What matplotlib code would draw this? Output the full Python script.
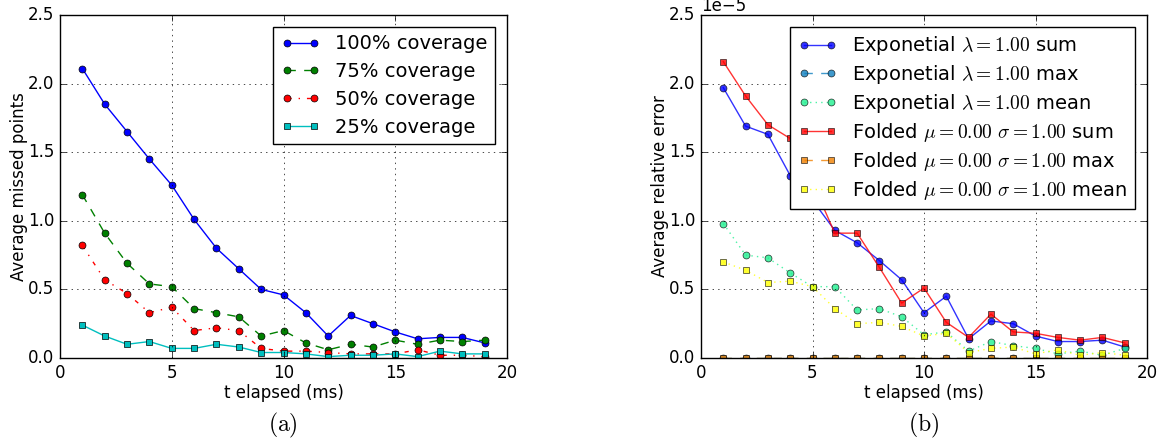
import matplotlib
matplotlib.use("Agg")
import matplotlib.pyplot as plt

plt.style.use('classic')
plt.rcParams['mathtext.fontset'] = 'cm'
plt.rcParams['font.family'] = ['DejaVu Sans']

t = list(range(1, 20))

cov100 = [2.11, 1.85, 1.65, 1.45, 1.26, 1.01, 0.80, 0.65, 0.50, 0.46, 0.33, 0.16, 0.31, 0.25, 0.19, 0.14, 0.15, 0.15, 0.11]
cov75 = [1.19, 0.91, 0.69, 0.54, 0.52, 0.36, 0.33, 0.30, 0.16, 0.20, 0.11, 0.06, 0.10, 0.08, 0.13, 0.10, 0.13, 0.12, 0.13]
cov50 = [0.82, 0.57, 0.47, 0.33, 0.37, 0.20, 0.22, 0.20, 0.07, 0.05, 0.05, 0.04, 0.03, 0.03, 0.03, 0.06, 0.02, 0.02, 0.01]
cov25 = [0.24, 0.16, 0.10, 0.12, 0.07, 0.07, 0.10, 0.08, 0.04, 0.04, 0.03, 0.01, 0.02, 0.02, 0.03, 0.01, 0.05, 0.03, 0.03]

exp_sum = [1.97, 1.69, 1.63, 1.33, 1.15, 0.93, 0.84, 0.71, 0.57, 0.33, 0.45, 0.14, 0.27, 0.25, 0.16, 0.12, 0.12, 0.13, 0.08]
exp_max = [0.0] * 19
exp_mean = [0.98, 0.75, 0.73, 0.62, 0.52, 0.52, 0.35, 0.36, 0.30, 0.17, 0.19, 0.05, 0.12, 0.09, 0.07, 0.03, 0.05, 0.02, 0.07]
fold_sum = [2.16, 1.91, 1.70, 1.60, 1.28, 0.91, 0.91, 0.66, 0.40, 0.51, 0.26, 0.15, 0.32, 0.19, 0.18, 0.15, 0.13, 0.15, 0.11]
fold_max = [0.0] * 19
fold_mean = [0.70, 0.64, 0.55, 0.56, 0.52, 0.36, 0.25, 0.26, 0.23, 0.16, 0.18, 0.04, 0.07, 0.08, 0.03, 0.06, 0.02, 0.04, 0.02]
scale = 1e-5

left_labels = ['100% coverage', '75% coverage', '50% coverage', '25% coverage']
right_labels = [r'Exponetial $\lambda = 1.00$ sum', r'Exponetial $\lambda = 1.00$ max',
                r'Exponetial $\lambda = 1.00$ mean', r'Folded $\mu = 0.00$ $\sigma = 1.00$ sum',
                r'Folded $\mu = 0.00$ $\sigma = 1.00$ max', r'Folded $\mu = 0.00$ $\sigma = 1.00$ mean']

W, H = 1166, 443
fig = plt.figure(figsize=(W / 100, H / 100), dpi=100, facecolor='white')
ax1 = fig.add_axes([60 / W, (H - 358) / H, 447 / W, 343 / H])
ax2 = fig.add_axes([701 / W, (H - 358) / H, 446 / W, 343 / H])

ms = 5
ax1.plot(t, cov100, '-', color='b', marker='o', ms=ms, label=left_labels[0])
ax1.plot(t, cov75, '--', color='g', marker='o', ms=ms, label=left_labels[1])
ax1.plot(t, cov50, '-.', color='r', marker='o', ms=ms, label=left_labels[2])
ax1.plot(t, cov25, '-', color='c', marker='s', ms=ms, label=left_labels[3])
ax1.set_xlim(0, 20)
ax1.set_ylim(0, 2.5)
ax1.set_xticks([0, 5, 10, 15, 20])
ax1.set_yticks([0.0, 0.5, 1.0, 1.5, 2.0, 2.5])
ax1.set_xlabel('t elapsed (ms)', labelpad=2)
ax1.set_ylabel('Average missed points', labelpad=0)
ax1.grid(True, color='black', linestyle=':')
ax1.legend(loc='upper right', fontsize=14, numpoints=2, borderaxespad=0.6, labelspacing=0.45)

a = 0.8
ax2.plot(t, [v * scale for v in exp_sum], '-', color='#0000ff', marker='o', ms=ms, alpha=a, label=right_labels[0])
ax2.plot(t, [v * scale for v in exp_max], '--', color='#1080c0', marker='o', ms=ms, alpha=a, label=right_labels[1])
ax2.plot(t, [v * scale for v in exp_mean], ':', color='#20f090', marker='o', ms=ms, alpha=a, label=right_labels[2])
ax2.plot(t, [v * scale for v in fold_sum], '-', color='#ff0000', marker='s', ms=ms, alpha=a, label=right_labels[3])
ax2.plot(t, [v * scale for v in fold_max], '--', color='#f08000', marker='s', ms=ms, alpha=a, label=right_labels[4])
ax2.plot(t, [v * scale for v in fold_mean], ':', color='#ffff00', marker='s', ms=ms, alpha=a, label=right_labels[5])
ax2.set_xlim(0, 20)
ax2.set_ylim(0, 2.5e-5)
ax2.set_xticks([0, 5, 10, 15, 20])
ax2.set_yticks([0.0, 0.5e-5, 1.0e-5, 1.5e-5, 2.0e-5, 2.5e-5])
ax2.ticklabel_format(axis='y', style='sci', scilimits=(0, 0))
ax2.set_xlabel('t elapsed (ms)', labelpad=2)
ax2.set_ylabel('Average relative error', labelpad=0)
ax2.grid(True, color='black', linestyle=':')
ax2.legend(loc='upper right', fontsize=14, numpoints=2, borderaxespad=0.6, labelspacing=0.3)

fig.text(283 / W, 1 - 425 / H, r'$\mathrm{(a)}$', ha='center', va='center', fontsize=17)
fig.text(924 / W, 1 - 425 / H, r'$\mathrm{(b)}$', ha='center', va='center', fontsize=17)

fig.savefig('out.png', dpi=100, facecolor='white')
